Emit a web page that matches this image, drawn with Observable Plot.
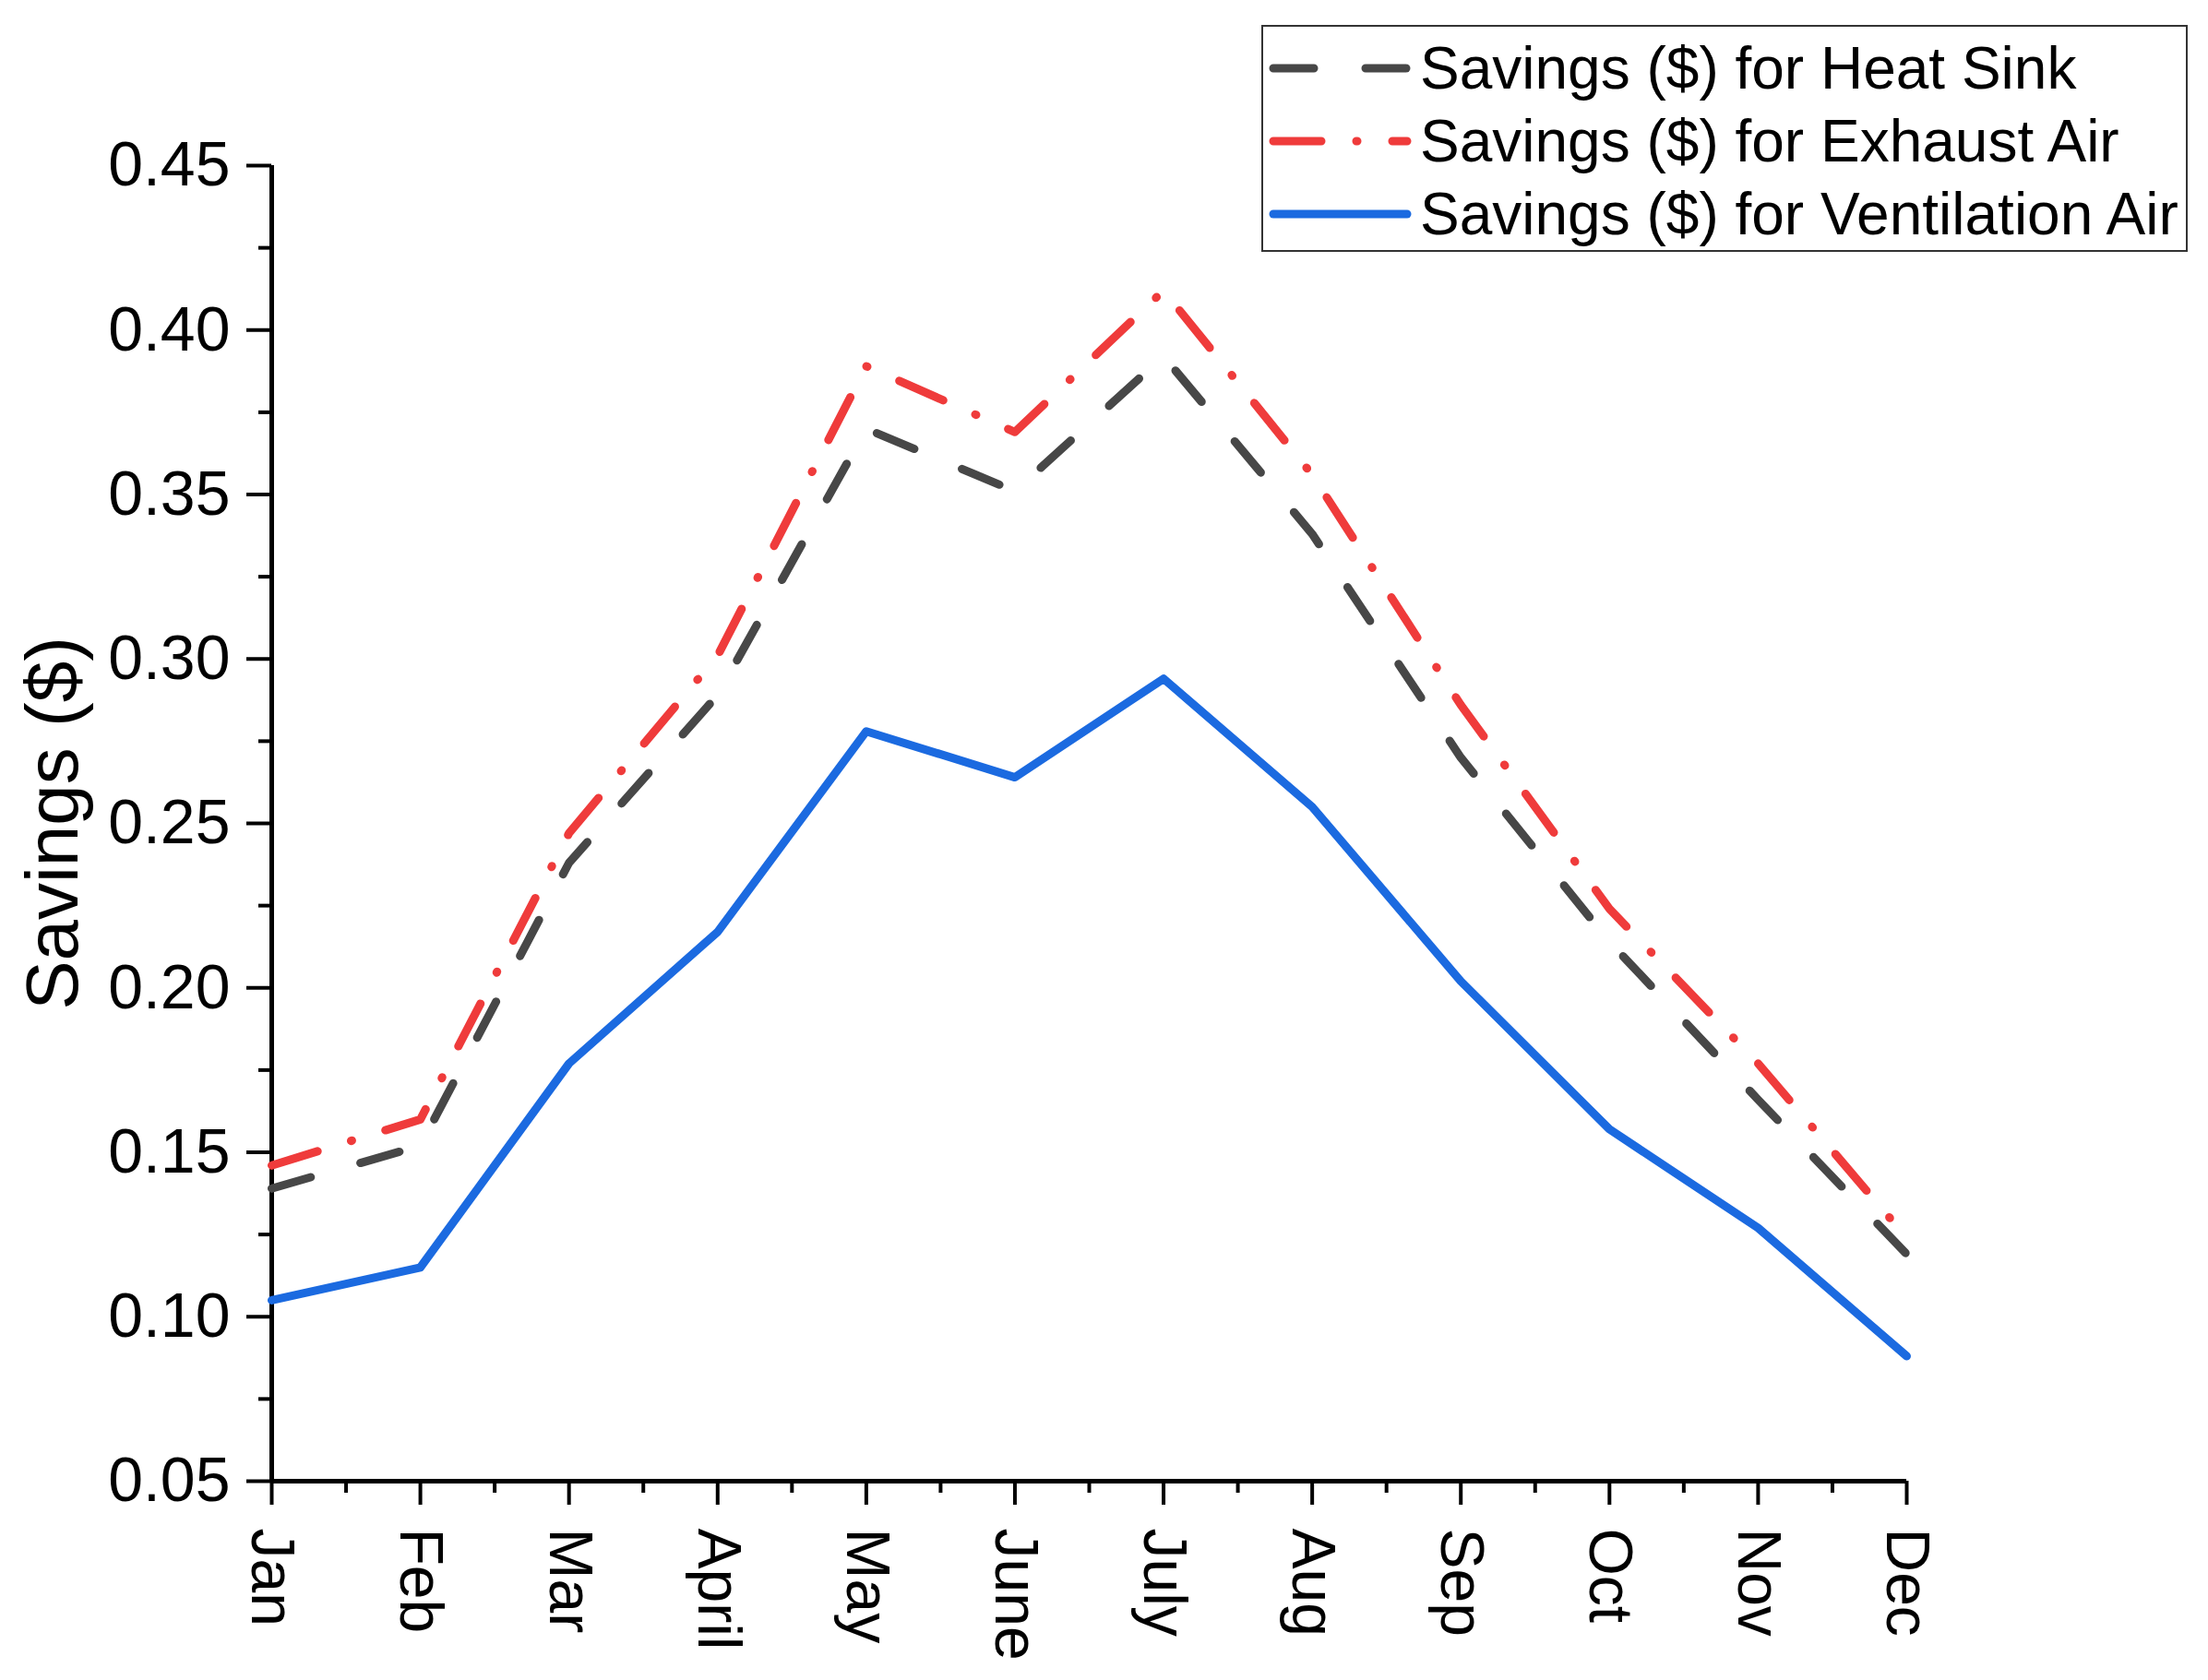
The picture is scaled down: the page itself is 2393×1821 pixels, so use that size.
<!DOCTYPE html>
<html>
<head>
<meta charset="utf-8">
<script src="https://cdn.jsdelivr.net/npm/d3@7"></script>
<script src="https://cdn.jsdelivr.net/npm/@observablehq/plot@0.6"></script>
<style>
  body { margin: 0; background: white; font-family: "Liberation Sans", Arial, sans-serif; }
  #wrap { position: relative; width: 2393px; height: 1821px; }
  #legend {
    position: absolute; left: 1367px; top: 27px; width: 1000px; height: 242px;
    border: 2px solid #333; background: white;
  }
  .row { position: absolute; left: 0; height: 70px; display: flex; align-items: center; }
  .row span { font-size: 64px; color: black; margin-left: 4px; white-space: nowrap; }
</style>
</head>
<body>
<div id="wrap">
  <div id="chart"></div>
  <div id="legend"></div>
</div>
<script>
// meses del eje x
const months = ["Jan", "Feb", "Mar", "April", "May", "June", "July", "Aug", "Sep", "Oct", "Nov", "Dec"];

// ahorro mensual ($) por serie
const heatSink = [0.139, 0.152, 0.238, 0.289, 0.370, 0.351, 0.392, 0.338, 0.270, 0.214, 0.166, 0.119];
const exhaustAir = [0.146, 0.160, 0.247, 0.301, 0.389, 0.369, 0.412, 0.356, 0.286, 0.224, 0.177, 0.124];
const ventilationAir = [0.105, 0.115, 0.177, 0.217, 0.278, 0.264, 0.294, 0.255, 0.202, 0.157, 0.127, 0.088];

const seriesNames = ["Savings ($) for Heat Sink", "Savings ($) for Exhaust Air", "Savings ($) for Ventilation Air"];
const yTicks = [0.05, 0.10, 0.15, 0.20, 0.25, 0.30, 0.35, 0.40, 0.45];

const styles = [
  { stroke: "#474747", dash: "44,56" },
  { stroke: "#ef3b3b", dash: "52,38,1,38" },
  { stroke: "#1b6ae0", dash: null }
];

const idx = d3.range(months.length);

const lineMark = (values, s) =>
  Plot.lineY(values, {
    x: (d, i) => i,
    y: (d) => d,
    stroke: s.stroke,
    strokeWidth: 9,
    strokeDasharray: s.dash,
    strokeLinecap: "round",
    strokeLinejoin: "round"
  });

const chart = Plot.plot({
  width: 2393,
  height: 1821,
  marginLeft: 294,
  marginRight: 327,
  marginTop: 179,
  marginBottom: 216,
  style: { fontFamily: "Liberation Sans, Arial, sans-serif", color: "black", background: "white" },
  x: { domain: [0, 11] },
  y: { domain: [0.05, 0.45] },
  marks: [
    Plot.axisY({ ticks: yTicks, tickSize: 27, tickPadding: 18, tickFormat: ".2f", fontSize: 68, strokeWidth: 4, label: null }),
    Plot.axisY({ ticks: yTicks.slice(0, -1).map((d) => d + 0.025), tickSize: 14, tickFormat: () => "", strokeWidth: 4, label: null }),
    Plot.axisX({ ticks: idx, tickSize: 26, tickPadding: 25, tickRotate: 90, tickFormat: (i) => months[i], fontSize: 66, strokeWidth: 4, label: null }),
    Plot.axisX({ ticks: idx.slice(0, -1).map((d) => d + 0.5), tickSize: 13, tickFormat: () => "", strokeWidth: 4, label: null }),
    Plot.ruleY([0.05], { strokeWidth: 5 }),
    Plot.ruleX([0], { strokeWidth: 5 }),
    Plot.text(["Savings ($)"], { frameAnchor: "left", textAnchor: "middle", dx: -236, rotate: -90, fontSize: 80, fill: "black" }),
    lineMark(ventilationAir, styles[2]),
    lineMark(heatSink, styles[0]),
    lineMark(exhaustAir, styles[1])
  ]
});

d3.select("#chart").append(() => chart);

// leyenda
const legend = d3.select("#legend");
seriesNames.forEach((name, i) => {
  const row = legend.append("div").attr("class", "row").style("top", `${10 + i * 79}px`);
  const svg = row.append("svg").attr("width", 160).attr("height", 20).style("margin-left", "6px");
  svg.append("line")
    .attr("x1", 5).attr("x2", 150).attr("y1", 10).attr("y2", 10)
    .attr("stroke", styles[i].stroke)
    .attr("stroke-width", 9)
    .attr("stroke-linecap", "round")
    .attr("stroke-dasharray", styles[i].dash);
  row.append("span").text(name);
});
</script>
</body>
</html>
